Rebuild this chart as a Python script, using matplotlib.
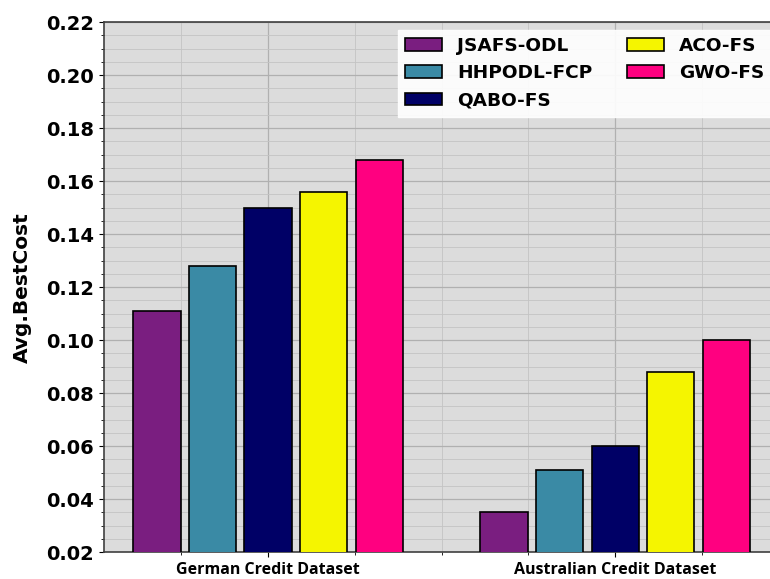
import numpy as np
from matplotlib import pyplot as plt
from matplotlib.ticker import MultipleLocator

datasets = ['German Credit Dataset', 'Australian Credit Dataset']
methods = ['JSAFS-ODL', 'HHPODL-FCP', 'QABO-FS', 'ACO-FS', 'GWO-FS']
jsafs_odl = [0.111, 0.035]
hhpodl_fcp = [0.128, 0.051]
qabo_fs = [0.150, 0.060]
aco_fs = [0.156, 0.088]
gwo_fs = [0.168, 0.100]
colors = ['#7a1e80', '#3a8aa5', '#000066', '#f5f500', '#ff0080']

series = [jsafs_odl, hhpodl_fcp, qabo_fs, aco_fs, gwo_fs]

fig = plt.figure(figsize=(7.70, 5.79), dpi=100)
ax = fig.add_axes([0.135, 0.0466, 0.877, 0.915])
ax.set_facecolor('#dcdcdc')

x = np.arange(len(datasets))
for i, (vals, name, c) in enumerate(zip(series, methods, colors)):
    ax.bar(x + (i - 2) * 0.16, vals, width=0.136, color=c, edgecolor='black',
           linewidth=1.2, label=name, zorder=3)

ax.set_xlim(-0.473, 1.473)
ax.set_ylim(0.02, 0.22)
ax.set_yticks(np.arange(0.02, 0.2201, 0.02))
ax.yaxis.set_minor_locator(MultipleLocator(0.005))
ax.set_xticks(x)
ax.xaxis.set_minor_locator(MultipleLocator(0.25))
ax.set_xticklabels(datasets, fontsize=11.5, fontweight='bold', family='Open Sans')
ax.set_yticklabels([f'{v:.2f}' for v in np.arange(0.02, 0.2201, 0.02)],
                   fontsize=14, fontweight='bold')
ax.set_ylabel('Avg.BestCost', fontsize=14.5, fontweight='bold', labelpad=10)

ax.grid(which='major', color='#b0b0b0', linewidth=0.9, zorder=0)
ax.grid(which='minor', color='#c4c4c4', linewidth=0.6, zorder=0)
ax.set_axisbelow(True)
for s in ax.spines.values():
    s.set_color('#404040')
    s.set_linewidth(1.2)

ax.legend(loc='upper right', ncol=2, prop={'weight': 'bold', 'size': 13.3},
          fancybox=False, framealpha=0.9, edgecolor='white',
          handlelength=2.0, handletextpad=0.8, columnspacing=1.9,
          borderaxespad=0.4)

fig.savefig('out.png', dpi=100)
